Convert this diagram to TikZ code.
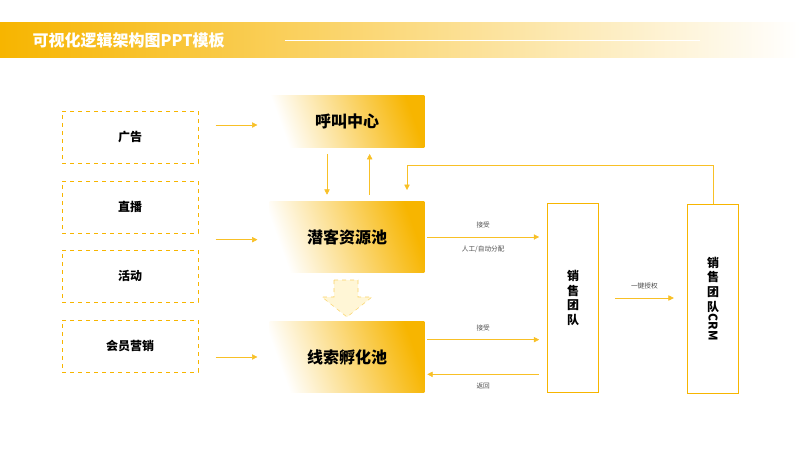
\documentclass[tikz,border=0pt]{standalone}
\usepackage{fontspec}
\setmainfont{Noto Sans CJK SC}
\usetikzlibrary{arrows.meta, positioning}
\definecolor{gold}{HTML}{F7B500}
\definecolor{paleGold}{HTML}{FFF6D6}
\tikzstyle{source} = [rectangle, draw=gold, dashed, minimum width=102pt, minimum height=39pt, text centered, font=\small\bfseries]
\tikzstyle{pool} = [rectangle, left color=white, right color=gold, shading angle=110, minimum width=116pt, minimum height=53pt, text centered, font=\large\bfseries]
\tikzstyle{team} = [rectangle, draw=gold, thick, minimum width=38pt, minimum height=142pt, text centered, font=\small\bfseries, align=center]
\tikzstyle{arrow} = [gold!85, thin, -{Triangle[length=4pt,width=4pt]}]
\tikzstyle{note} = [font=\tiny, text=black!70]

\begin{document}
\begin{tikzpicture}[x=0.75pt, y=-0.75pt]
\useasboundingbox (0,0) rectangle (800,450);

% Title bar
\shade[left color=gold, right color=white] (0,22) rectangle (800,57);
\draw[white, thin] (285,40) -- (700,40);
\node[anchor=west, text=white, font=\large\bfseries] (title) at (28,40) {可视化逻辑架构图PPT模板};

% Sources
\node (ad) [source] at (130,137) {广告};
\node (live) [source] at (130,207) {直播};
\node (event) [source] at (130,276) {活动};
\node (member) [source] at (130,346) {会员营销};

% Pools
\node (call) [pool, minimum height=39pt] at (347,121) {呼叫中心};
\node (leads) [pool] at (347,237) {潜客资源池};
\node (nurture) [pool] at (347,357) {线索孵化池};

% Big arrow
\draw[gold!60, dashed, fill=paleGold] (334,280) -- (358,280) -- (358,297) -- (372,297) -- (347,317) -- (322,297) -- (334,297) -- cycle;

% Teams
\node (sales) [team] at (573,298) {销\\售\\团\\队};
\node (crm) [team] at (713,299) {销\\售\\团\\队\\[-9pt]\rotatebox{-90}{CRM}};

% Arrows
\draw [arrow] ([xshift=13pt,yshift=-3pt]ad.east |- call.west) -- ([xshift=-9pt,yshift=-3pt]call.west);
\draw [arrow] ([xshift=13pt,yshift=-2pt]live.east |- leads.west) -- ([xshift=-9pt,yshift=-2pt]leads.west);
\draw [arrow] ([xshift=13pt]member.east |- nurture.west) -- ([xshift=-9pt]nurture.west);
\draw [arrow] ([xshift=-15pt,yshift=-5pt]call.south) -- ([xshift=-15pt,yshift=5pt]leads.north);
\draw [arrow] ([xshift=17pt,yshift=5pt]leads.north) -- ([xshift=17pt,yshift=-5pt]call.south);
\draw [arrow] ([xshift=2pt]leads.east) -- node[note, above=3pt] {接受} node[note, below=3pt] {人工/自动分配} ([xshift=-6pt]sales.west |- leads.east);
\draw [arrow] ([xshift=2pt,yshift=13pt]nurture.east) -- node[note, above=3pt] {接受} ([xshift=-6pt,yshift=13pt]sales.west |- nurture.east);
\draw [arrow] ([xshift=-6pt,yshift=-13pt]sales.west |- nurture.east) -- node[note, below=3pt] {返回} ([xshift=2pt,yshift=-13pt]nurture.east);
\draw [arrow] ([xshift=12pt]sales.east) -- node[note, above=3pt] {一键授权} ([xshift=-10pt]crm.west |- sales.east);
\draw [arrow] (crm.north) -- (713,165) -- (407,165) -- (407,190);

\end{tikzpicture}
\end{document}
